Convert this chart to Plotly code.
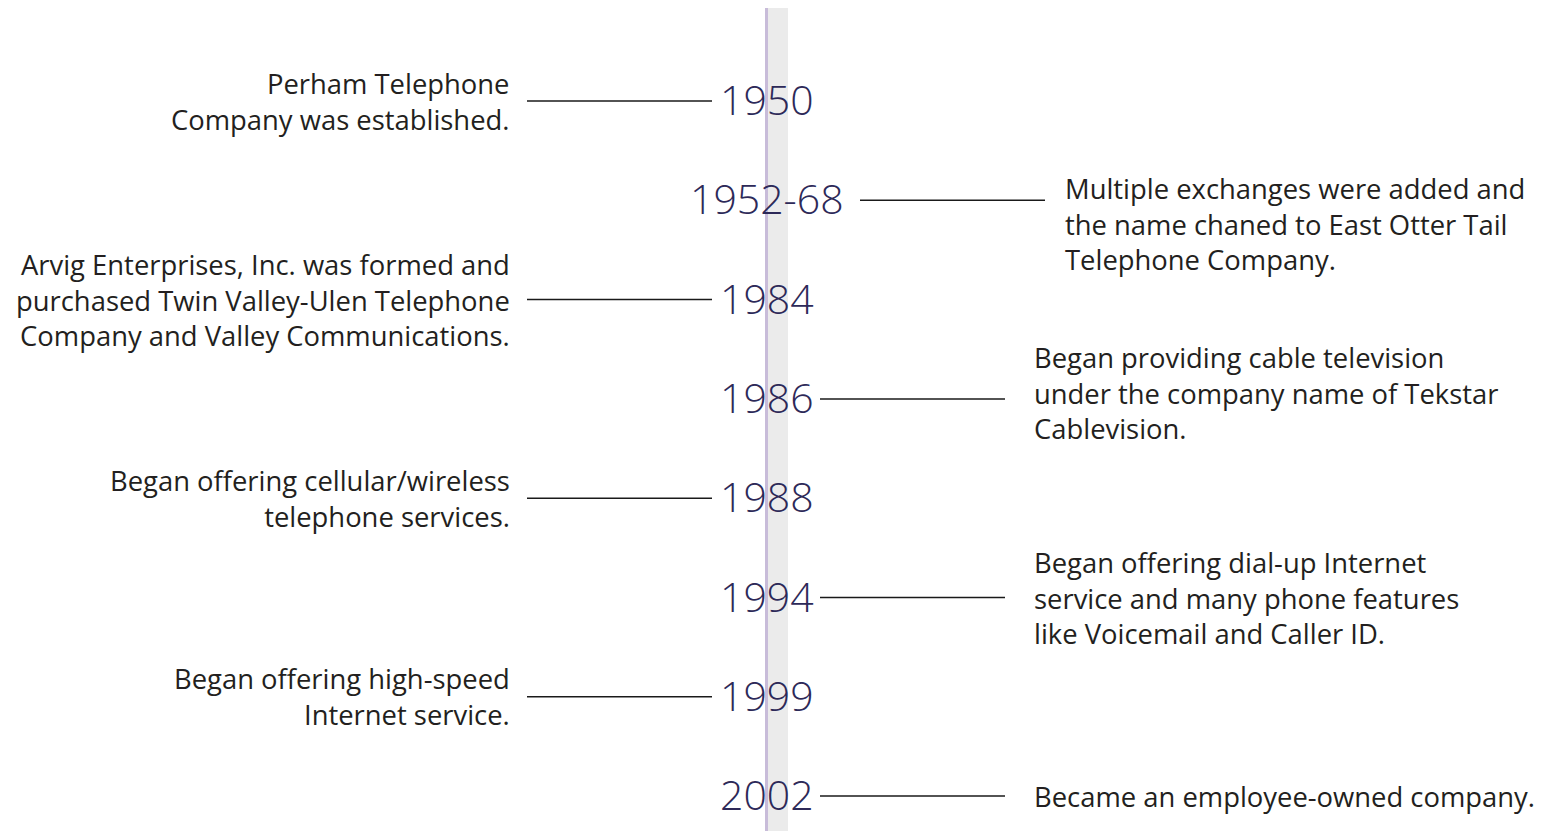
import plotly.graph_objects as go

# ---- data ----
years = ["1950", "1952-68", "1984", "1986", "1988", "1994", "1999", "2002"]
sides = ["left", "right", "left", "right", "left", "right", "left", "right"]
descriptions = [
    "Perham Telephone<br>Company was established.",
    "Multiple exchanges were added and<br>the name chaned to East Otter Tail<br>Telephone Company.",
    "Arvig Enterprises, Inc. was formed and<br>purchased Twin Valley-Ulen Telephone<br>Company and Valley Communications.",
    "Began providing cable television<br>under the company name of Tekstar<br>Cablevision.",
    "Began offering cellular/wireless<br>telephone services.",
    "Began offering dial-up Internet<br>service and many phone features<br>like Voicemail and Caller ID.",
    "Began offering high-speed<br>Internet service.",
    "Became an employee-owned company.",
]

# ---- layout / style ----
W, H = 1554, 831
PAGE_OFFSET = 8          # default body margin of the html page
STEP = 99.3              # vertical pixels between events
FIRST_Y = 101            # screen y of first event
CENTER_X = 767
YEAR_FONT = dict(family="Open Sans", size=41, color="#2d2958", weight=300)
DESC_FONT = dict(family="Open Sans", size=27.4, color="#231f20")
LINE_COLOR = "#1a1a1a"
line_offset = {"1952-68": 40}
text_offset = {"1952-68": 31}
desc_yshift = {"1952-68": -24, "1986": 6}

n = len(years)
y_top = (PAGE_OFFSET - FIRST_Y) / STEP
y_bot = y_top + H / STEP

fig = go.Figure()

# timeline band and line
fig.add_shape(type="rect", xref="x", yref="paper", x0=CENTER_X + 1, x1=CENTER_X + 21,
              y0=0, y1=1, fillcolor="#ebebeb", line_width=0, layer="below")
fig.add_shape(type="rect", xref="x", yref="paper", x0=CENTER_X - 2, x1=CENTER_X + 1,
              y0=0, y1=1, fillcolor="#c8bcd9", line_width=0, layer="below")

annotations = []
for i, (yr, side, desc) in enumerate(zip(years, sides, descriptions)):
    annotations.append(dict(x=CENTER_X, y=i, xref="x", yref="y", text=yr, showarrow=False,
                            xanchor="center", yanchor="middle", font=YEAR_FONT, yshift=2))
    if side == "left":
        x0, x1 = 527, 712
        annotations.append(dict(x=512, y=i, xref="x", yref="y", text=desc, showarrow=False,
                                xanchor="right", yanchor="middle", align="right", font=DESC_FONT,
                                yshift=desc_yshift.get(yr, 0)))
    else:
        off = line_offset.get(yr, 0)
        x0, x1 = 820 + off, 1005 + off
        annotations.append(dict(x=1032 + text_offset.get(yr, 0), y=i, xref="x", yref="y",
                                text=desc, showarrow=False,
                                xanchor="left", yanchor="middle", align="left", font=DESC_FONT,
                                yshift=desc_yshift.get(yr, 0)))
    fig.add_trace(go.Scatter(x=[x0, x1], y=[i, i], mode="lines",
                             line=dict(color=LINE_COLOR, width=1.5),
                             hoverinfo="skip", showlegend=False))

fig.update_layout(
    width=W, height=H,
    margin=dict(l=0, r=0, t=0, b=0),
    paper_bgcolor="white", plot_bgcolor="white",
    annotations=annotations,
    xaxis=dict(range=[PAGE_OFFSET, W + PAGE_OFFSET], visible=False, fixedrange=True),
    yaxis=dict(range=[y_bot, y_top], visible=False, fixedrange=True),
    showlegend=False,
)

fig.write_html("out.html")
